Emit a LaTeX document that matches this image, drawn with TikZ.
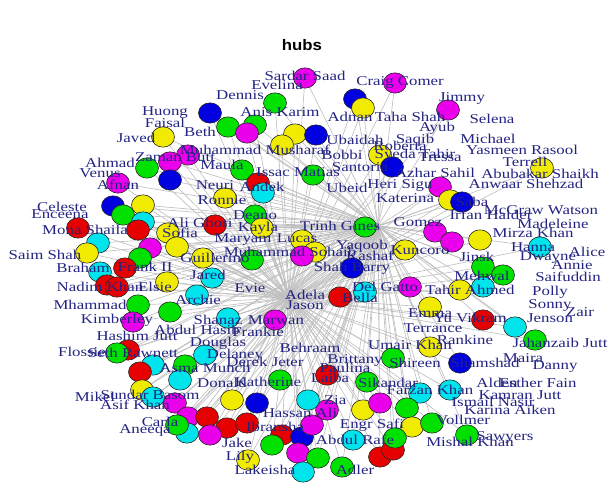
\documentclass[tikz,border=0pt]{standalone}
\usepackage{fontspec}
\setmainfont{Liberation Serif}
\newfontfamily\lblfont{Liberation Serif}[FakeStretch=1.25]
\newfontfamily\ttlfont{Liberation Sans}[FakeStretch=1.1]
\usepackage{tikz}
\usetikzlibrary{shapes.geometric,backgrounds}
\definecolor{mag}{RGB}{235,0,235}
\definecolor{blu}{RGB}{0,0,225}
\definecolor{grn}{RGB}{0,225,0}
\definecolor{yel}{RGB}{240,235,0}
\definecolor{rd}{RGB}{230,0,0}
\definecolor{cyn}{RGB}{0,228,235}
\definecolor{lblblue}{RGB}{35,35,130}
\definecolor{edgegray}{RGB}{192,192,192}

\begin{document}
\begin{tikzpicture}[x=0.03cm, y=-0.03cm,
  vtx/.style={ellipse, draw=black!85, line width=0.5pt, minimum width=0.69cm,
              minimum height=0.61cm, inner sep=0pt},
  lbl/.style={text=lblblue, font=\lblfont\fontsize{11.5}{11.5}\selectfont, inner sep=0pt},
  edge/.style={draw=edgegray, line width=0.55pt},
  hubdot/.style={circle, fill=lblblue, inner sep=0pt, minimum size=2pt}
]
  \useasboundingbox (0,0) rectangle (608,486);
  \node[font=\ttlfont\bfseries\fontsize{13}{13}\selectfont] (title) at (302,45) {hubs};

  \node[hubdot] (hubA) at (289,298) {};
  \node[hubdot] (hubB) at (378,226) {};

  \foreach \px/\py/\col [count=\i] in {
    305/78/mag, 395/83/mag, 355/99/blu, 275/103/grn, 210/113/blu, 228/127/grn,
    255/125/grn, 247/133/mag, 295/134/yel, 282/145/yel, 316/135/blu, 448/110/mag,
    363/108/yel, 380/155/yel, 392/167/blu, 242/170/grn, 313/175/grn, 258/183/rd,
    542/168/yel, 163/137/yel, 188/155/mag, 170/162/mag, 147/168/grn, 170/180/blu,
    118/183/mag, 113/206/blu, 143/205/yel, 123/215/grn, 215/225/rd, 78/228/rd,
    143/222/cyn, 138/230/rd, 168/233/yel, 98/243/cyn, 177/247/yel, 87/253/yel,
    150/248/mag, 140/258/grn, 125/268/rd, 100/272/cyn, 107/285/rd, 117/287/rd,
    167/282/yel, 212/278/cyn, 203/258/yel, 263/193/cyn, 225/198/yel, 255/215/grn,
    262/228/yel, 302/240/yel, 315/252/yel, 302/256/mag, 252/260/grn, 352/268/blu,
    340/297/rd, 365/292/cyn, 365/227/grn, 440/187/mag, 450/200/yel, 462/202/blu,
    435/232/mag, 452/242/mag, 480/240/yel, 405/250/yel, 540/247/cyn, 483/267/grn,
    503/275/grn, 483/287/cyn, 460/290/yel, 410/287/mag, 430/307/yel, 483/320/rd,
    515/327/cyn, 535/340/grn, 197/295/cyn, 170/312/grn, 138/305/grn, 133/322/mag,
    228/318/cyn, 275/320/mag, 128/350/rd, 117/353/grn, 153/365/cyn, 185/365/grn,
    205/355/cyn, 140/372/rd, 180/380/cyn, 142/390/yel, 153/397/cyn, 175/403/mag,
    232/400/yel, 257/403/blu, 188/417/mag, 207/417/rd, 227/428/rd, 187/433/cyn,
    177/425/grn, 210/435/mag, 247/423/rd, 282/435/rd, 302/437/blu, 312/425/mag,
    272/445/grn, 298/453/mag, 248/460/yel, 318/458/grn, 303/472/cyn, 342/467/grn,
    380/457/rd, 393/450/rd, 353/440/cyn, 363/410/yel, 327/410/mag, 280/380/grn,
    327/375/rd, 367/382/grn, 308/400/cyn, 420/393/cyn, 450/390/cyn, 380/403/mag,
    407/408/grn, 412/427/yel, 432/423/grn, 467/435/grn, 395/438/grn, 430/347/yel,
    393/358/grn, 460/363/blu}
  {
    \node[vtx, fill=\col] (c\i) at (\px,\py) {};
    \xdef\ncirc{\i}
  }

  \begin{pgfonlayer}{background}
    \draw[edge] (hubA) -- (hubB);
    \foreach \i in {1,...,\ncirc} {
      \draw[edge] (hubA) -- (c\i);
      \draw[edge] (hubB) -- (c\i);
    }
  \end{pgfonlayer}

  \foreach \px/\py/\txt [count=\j] in {
    305/76/Sardar Saad, 400/82/Craig Comer, 462/98/Jimmy, 277/85/Evelina,
    240/95/Dennis, 280/112/Anis Karim, 350/117/Adnan, 410/117/Taha Shah,
    492/119/Selena, 437/128/Ayub, 488/139/Michael, 415/140/Saqib,
    355/140/Ubaidah, 400/146/Roberta, 255/150/Muhammad Musharaf, 342/155/Bobbi,
    415/155/Syeda Tahir, 360/167/Santoria, 440/157/Tressa, 522/150/Yasmeen Rasool,
    525/162/Terrell, 435/173/Azhar Sahil, 540/174/Abubakar Shaikh,
    526/184/Anwaar Shehzad, 400/185/Heri Sigu, 405/198/Katerina, 472/202/Saba,
    541/210/McGraw Watson, 491/215/Irfan Haider, 553/224/Madeleine,
    533/233/Mirza Khan, 418/222/Gomez, 533/247/Hanna, 587/252/Alice,
    548/258/Dwayne, 572/265/Annie, 477/257/Jinsk, 420/250/Kuncoro,
    568/277/Saifuddin, 482/276/Mehwal, 470/290/Tahir Ahmed, 550/292/Polly,
    550/305/Sonny, 580/312/Zair, 550/318/Jenson, 470/318/Yu Vikram,
    430/313/Emma, 433/328/Terrance, 465/340/Rankine, 560/343/Jahanzaib Jutt,
    410/345/Umair Khan, 415/363/Shireen, 355/360/Brittany, 345/368/Paulina,
    523/358/Maira, 485/363/Shamshad, 555/367/Danny, 388/383/Sikandar,
    330/378/Laiba, 268/382/Katherine, 430/390/Farzan Khan, 497/383/Alden,
    538/383/Esther Fain, 520/395/Kamran Jutt, 493/402/Ismail Nasir,
    510/410/Karina Aiken, 463/420/Vollmer, 505/437/Sawyers, 470/442/Mishal Khan,
    372/425/Engr Safi, 355/440/Abdul Rafe, 335/400/Zia, 300/413/Hassan Ali,
    275/427/Ibransha, 237/443/Jake, 240/457/Lily, 265/470/Lakeisha, 355/470/Adler,
    340/226/Trinh Gines, 347/188/Ubeid, 298/172/Issac Matias, 215/185/Neuri,
    262/187/Andek, 222/200/Ronnie, 255/215/Deano, 258/228/Kayla, 200/223/Ali Ghori,
    243/240/Maryam, 297/238/Lucas, 290/252/Muhammad Sohaib, 362/246/Yaqoob,
    370/256/Kashaf, 352/268/Shah Barry, 385/287/Del Gatto, 360/298/Bella,
    305/295/Adela, 305/305/Jason, 250/288/Evie, 208/275/Jared, 198/300/Archie,
    215/258/Guillermo, 218/320/Shanaz, 276/320/Marwan, 258/332/Frankie,
    197/330/Abdul Hasib, 218/343/Douglas, 235/355/Delaney, 265/362/Derek Jeter,
    310/348/Behraam, 222/383/Donald, 117/320/Kimberley, 137/336/Hashim Jutt,
    90/305/Mhammad, 82/352/Flossie, 133/353/Seth Rawnett, 205/368/Asma Munch,
    150/395/Sundar Basom, 95/397/Mikel, 135/405/Asif Khan, 145/430/Aneeqa,
    160/422/Carla, 45/255/Saim Shah, 62/207/Celeste, 60/214/Enceena,
    85/230/Mona Shaila, 180/233/Sofia, 83/268/Braham, 145/267/Frank II,
    155/287/Elsie, 100/287/Nadim Khan, 110/163/Ahmad, 100/173/Venus,
    118/185/Afnan, 175/157/Zaman Butt, 222/165/Maula, 165/113/Huong,
    165/123/Faisal, 136/138/Javed, 200/132/Beth}
  {
    \node[lbl] (t\j) at (\px,\py) {\txt};
  }
\end{tikzpicture}
\end{document}
